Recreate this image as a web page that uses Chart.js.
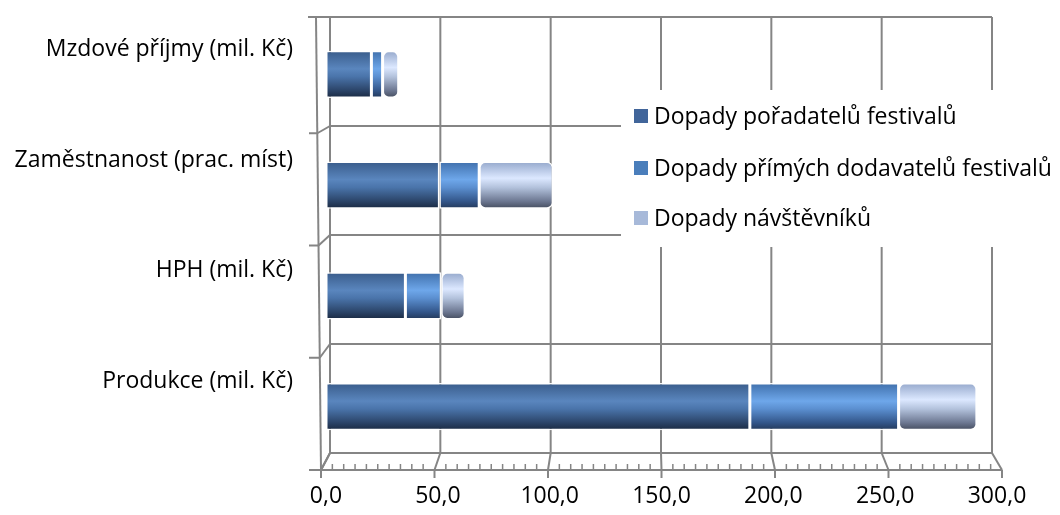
<!DOCTYPE html>
<html lang="cs">
<head>
<meta charset="utf-8">
<title>Dopady festivalů</title>
<script src="https://cdn.jsdelivr.net/npm/chart.js@4/dist/chart.umd.min.js"></script>
<style>
    html, body { margin: 0; padding: 0; background: #fff; }
    #wrap { position: relative; width: 1060px; height: 515px; }
</style>
</head>
<body>
<div id="wrap"><canvas id="impactChart"></canvas></div>
<script>
// Kategorie a hodnoty jednotlivých složek dopadu
const categories = ['Mzdové příjmy (mil. Kč)', 'Zaměstnanost (prac. míst)', 'HPH (mil. Kč)', 'Produkce (mil. Kč)'];
const seriesNames = ['Dopady pořadatelů festivalů', 'Dopady přímých dodavatelů festivalů', 'Dopady návštěvníků'];
const poradatele = [20.3, 50.7, 35.5, 189.5];
const dodavatele = [5.0, 17.8, 16.0, 66.5];
const navstevnici = [7.2, 33.0, 10.7, 35.0];
const xTicks = [0, 50, 100, 150, 200, 250, 300];

const FONT = "'Open Sans', sans-serif";
const WALL = '#858585';
const legendColors = ['#41659a', '#4a7ebb', '#a7b9d9'];

// Válcový přechod přes výšku pruhu
function cylinder(stops) {
    return function(context) {
        const chart = context.chart;
        const y = chart.scales.y;
        const yc = (y && context.dataIndex !== undefined) ? y.getPixelForValue(context.dataIndex) : NaN;
        if (!isFinite(yc)) return stops[1][1];
        const half = 23;
        const g = chart.ctx.createLinearGradient(0, yc - half, 0, yc + half);
        stops.forEach(s => g.addColorStop(s[0], s[1]));
        return g;
    };
}

const darkBlue = cylinder([[0, '#3a5d8c'], [0.38, '#5a86be'], [0.55, '#4a74aa'], [0.85, '#2b4468'], [1, '#1b2b44']]);
const midBlue = cylinder([[0, '#4171ad'], [0.38, '#6ea7ea'], [0.55, '#5b8fd0'], [0.85, '#33568a'], [1, '#243a5c']]);
const lightBlue = cylinder([[0, '#97aacd'], [0.35, '#dce8ff'], [0.55, '#b3c2dc'], [0.85, '#6c7791'], [1, '#474f61']]);

// bez automatických okrajů kvůli popiskům
function noPadding(scale) {
    scale.paddingTop = 0;
    scale.paddingBottom = 0;
    scale.paddingLeft = 0;
    scale.paddingRight = 0;
}

// Pseudo 3D stěny, podlaha a legenda
const wallsPlugin = {
    id: 'walls',
    beforeDatasetsDraw(chart) {
        const { ctx, chartArea: a, scales: { x, y } } = chart;
        const back = { l: a.left + 4, r: a.right - 5, t: a.top - 2, b: a.bottom - 9 };
        const front = { l: a.left - 5, r: a.right + 5, t: a.top + 2, b: a.bottom + 8 };
        const fx = (p, v) => p.l + (x.getPixelForValue(v) - a.left) / a.width * (p.r - p.l);
        const fy = (p, i) => p.t + (y.getPixelForValue(i - 0.5) - a.top) / a.height * (p.b - p.t);
        const n = categories.length;
        const outerX = yy => (front.l - 5) + (yy - back.t) / (front.b - back.t) * 5;

        ctx.save();
        ctx.strokeStyle = WALL;
        ctx.lineWidth = 2;
        const line = (x1, y1, x2, y2) => {
            ctx.beginPath();
            ctx.moveTo(x1, y1);
            ctx.lineTo(x2, y2);
            ctx.stroke();
        };

        // zadní stěna
        xTicks.forEach(v => line(fx(back, v), back.t, fx(back, v), back.b));
        for (let i = 0; i <= n; i++) {
            const yb = fy(back, i);
            line(i === 0 ? front.l - 13 : back.l, yb, back.r, yb);
        }

        // levá boční stěna
        line(outerX(back.t), back.t, outerX(front.b), front.b);
        for (let i = 1; i <= n; i++) {
            const yf = fy(front, i);
            line(front.l - 12, yf, outerX(yf), yf);
            line(outerX(yf), yf, back.l, fy(back, i));
        }

        // podlaha s osou
        line(front.l, front.b, front.r, front.b);
        xTicks.forEach(v => {
            line(fx(back, v), back.b, fx(front, v), front.b);
            line(fx(front, v), front.b, fx(front, v), front.b + 8);
        });
        ctx.lineWidth = 1.5;
        for (let v = 5; v < 300; v += 5) {
            if (v % 50 === 0) continue;
            line(fx(front, v), front.b, fx(front, v), front.b - 6);
        }

        // legenda
        ctx.fillStyle = '#fff';
        ctx.fillRect(621, 90, 439, 157);
        ctx.font = '23px ' + FONT;
        ctx.textBaseline = 'middle';
        ctx.textAlign = 'left';
        const rows = [116, 168, 218];
        seriesNames.forEach((name, i) => {
            ctx.fillStyle = legendColors[i];
            ctx.fillRect(634, rows[i] - 7, 14, 14);
            ctx.fillStyle = '#000';
            ctx.fillText(name, 654, rows[i] + 1);
        });
        ctx.restore();
    }
};

const barStyle = {
    borderColor: 'rgba(255,255,255,0.95)',
    borderWidth: 1.5,
    borderSkipped: false,
    borderRadius: 6,
    barPercentage: 0.425,
    categoryPercentage: 1
};

const ctx = document.getElementById('impactChart').getContext('2d');
window.impactChart = new Chart(ctx, {
    type: 'bar',
    data: {
        labels: categories,
        datasets: [
            Object.assign({ label: seriesNames[0], data: poradatele, backgroundColor: darkBlue }, barStyle),
            Object.assign({ label: seriesNames[1], data: dodavatele, backgroundColor: midBlue }, barStyle),
            Object.assign({ label: seriesNames[2], data: navstevnici, backgroundColor: lightBlue }, barStyle)
        ]
    },
    options: {
        indexAxis: 'y',
        responsive: true,
        maintainAspectRatio: false,
        animation: false,
        layout: { padding: { top: 19, right: 63, left: 0, bottom: 0 } },
        plugins: {
            legend: { display: false },
            tooltip: { enabled: false }
        },
        scales: {
            x: {
                stacked: true,
                min: 0,
                max: 300,
                border: { display: false },
                grid: { display: false, drawTicks: false },
                afterBuildTicks: scale => { scale.ticks = xTicks.map(v => ({ value: v })); },
                afterFit: scale => { scale.height = 53; noPadding(scale); },
                ticks: {
                    padding: 21,
                    color: '#000',
                    font: { family: FONT, size: 23 },
                    maxRotation: 0,
                    callback: v => Number(v).toFixed(1).replace('.', ',')
                }
            },
            y: {
                stacked: true,
                border: { display: false },
                grid: { display: false, drawTicks: false },
                afterFit: scale => { scale.width = 326; noPadding(scale); },
                ticks: {
                    padding: 33,
                    labelOffset: -25,
                    color: '#000',
                    font: { family: FONT, size: 23 }
                }
            }
        }
    },
    plugins: [wallsPlugin]
});
</script>
</body>
</html>
